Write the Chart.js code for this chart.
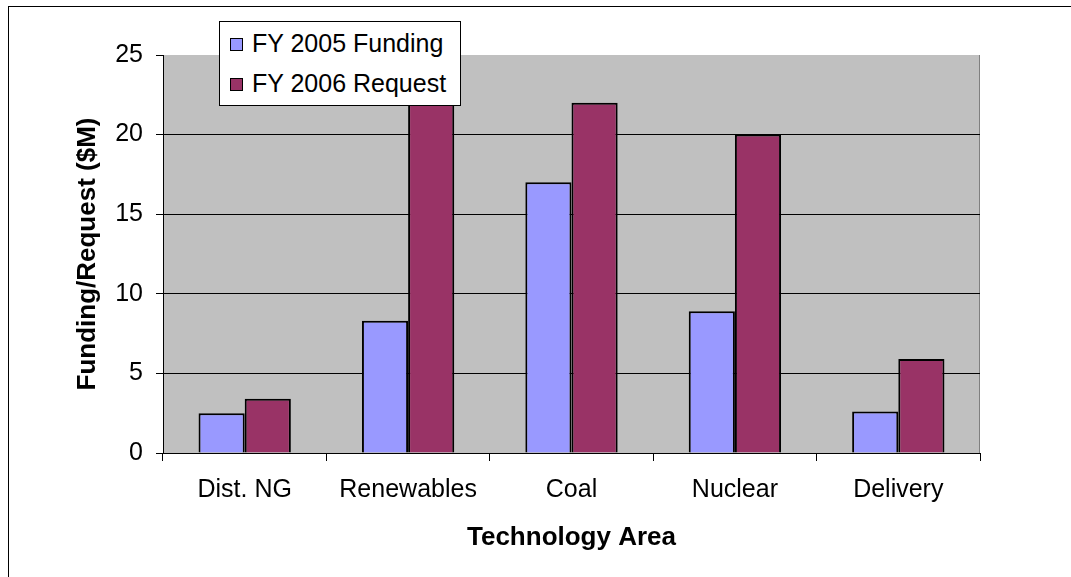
<!DOCTYPE html>
<html>
<head>
<meta charset="utf-8">
<script src="https://cdn.jsdelivr.net/npm/chart.js@4"></script>
<style>
  html, body { margin: 0; padding: 0; background: #fff; }
  #wrap { position: relative; width: 1071px; height: 577px; overflow: hidden; }
  #legend {
    position: absolute; left: 219px; top: 21px; width: 240px; height: 83px;
    background: #fff; border: 1px solid #000;
    font-family: "Liberation Sans", Arial, sans-serif; font-size: 25px; color: #000;
  }
  .item { position: absolute; left: 10px; height: 30px; line-height: 30px; white-space: nowrap; }
  .sw { display: inline-block; width: 11px; height: 11px; border: 1px solid #000; margin-right: 9px; vertical-align: 1px; }
</style>
</head>
<body>
<div id="wrap">
  <canvas id="chart" width="1071" height="577"></canvas>
  <div id="legend">
    <div class="item" style="top:6px"><span class="sw" style="background:#9999FF"></span>FY 2005 Funding</div>
    <div class="item" style="top:46px"><span class="sw" style="background:#993366"></span>FY 2006 Request</div>
  </div>
</div>
<script>
const categories = ['Dist. NG', 'Renewables', 'Coal', 'Nuclear', 'Delivery'];
const fy2005 = [2.5, 8.3, 17.0, 8.9, 2.6];
const fy2006 = [3.4, 27.0, 22.0, 20.0, 5.9];
const yTicks = [0, 5, 10, 15, 20, 25];

const FONT = '"Liberation Sans", Arial, sans-serif';

const frame = {
  id: 'frame',
  beforeDraw(chart) {
    const c = chart.ctx;
    const a = chart.chartArea;
    c.save();
    c.strokeStyle = '#000';
    c.lineWidth = 1;
    c.strokeRect(8.5, 6.5, 1200, 700);
    c.fillStyle = '#C0C0C0';
    c.fillRect(a.left, a.top, a.right - a.left, a.bottom - a.top);
    c.strokeStyle = '#808080';
    c.beginPath();
    c.moveTo(a.right - 0.5, a.top);
    c.lineTo(a.right - 0.5, a.bottom);
    c.stroke();
    c.restore();
  }
};

new Chart(document.getElementById('chart').getContext('2d'), {
  type: 'bar',
  data: {
    labels: categories,
    datasets: [
      { label: 'FY 2005 Funding', data: fy2005, backgroundColor: '#9999FF', borderColor: '#000', borderWidth: 2 },
      { label: 'FY 2006 Request', data: fy2006, backgroundColor: '#993366', borderColor: '#000', borderWidth: 2 }
    ]
  },
  options: {
    responsive: false,
    animation: false,
    layout: { padding: { left: 0, top: 55, right: 91, bottom: 0 } },
    datasets: { bar: { categoryPercentage: 0.565, barPercentage: 1.0 } },
    plugins: { legend: { display: false }, tooltip: { enabled: false } },
    scales: {
      x: {
        afterFit: s => { s.height = 124; },
        grid: { offset: true, drawOnChartArea: false, tickLength: 8, tickColor: '#000' },
        border: { color: '#000', width: 1 },
        ticks: { color: '#000', padding: 14, font: { family: FONT, size: 25 } },
        title: { display: true, text: 'Technology Area', color: '#000', padding: { top: 0, bottom: 24 },
                 font: { family: FONT, size: 26, weight: 'bold' } }
      },
      y: {
        min: 0, max: 25,
        afterFit: s => { s.width = 163; },
        afterBuildTicks: s => { s.ticks = yTicks.map(v => ({ value: v })); },
        grid: {
          tickLength: 7, tickColor: '#000',
          color: ctx => (ctx.tick && ctx.tick.value === 25) ? 'rgba(0,0,0,0)' : '#000'
        },
        border: { color: '#000', width: 1 },
        ticks: { color: '#000', padding: 13, font: { family: FONT, size: 25 } },
        title: { display: true, text: 'Funding/Request ($M)', color: '#000', padding: { top: 72, bottom: 0 },
                 font: { family: FONT, size: 26, weight: 'bold' } }
      }
    }
  },
  plugins: [frame]
});
</script>
</body>
</html>
